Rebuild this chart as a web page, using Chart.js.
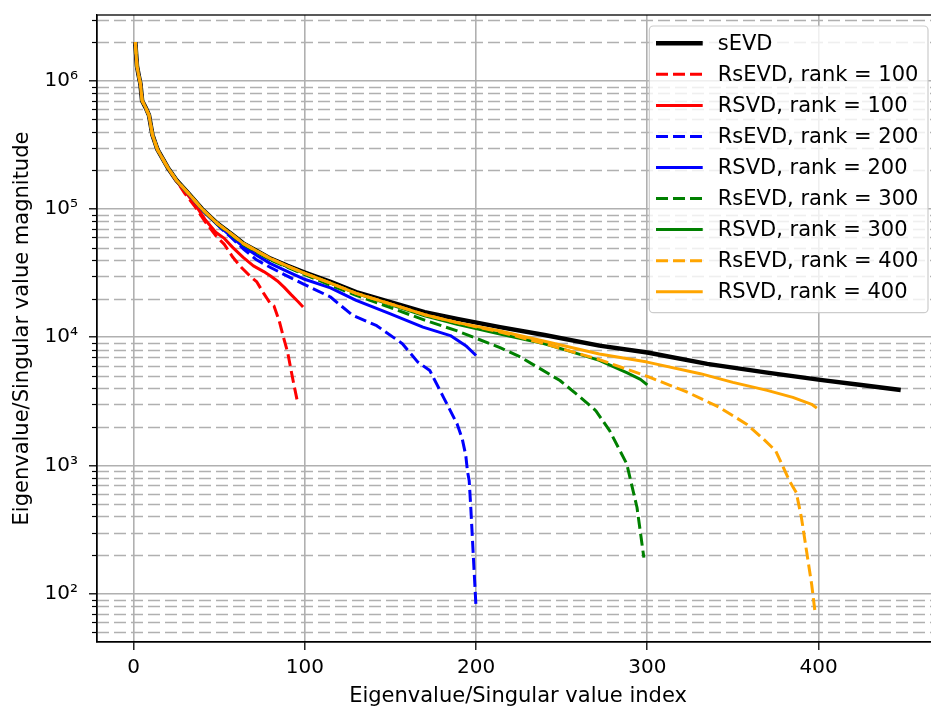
<!DOCTYPE html>
<html>
<head>
<meta charset="utf-8">
<script src="https://cdn.jsdelivr.net/npm/chart.js@4/dist/chart.umd.min.js"></script>
<style>
  html, body { margin: 0; padding: 0; background: #fff; overflow: hidden; }
  #wrap { width: 960px; height: 711px; }
</style>
</head>
<body>
<div id="wrap"><canvas id="evChart" width="960" height="711"></canvas></div>
<script>
// axis ticks
const xTicks = [0, 100, 200, 300, 400];
const yMajor = [1e2, 1e3, 1e4, 1e5, 1e6];
const yTickLabels = ['10²', '10³', '10⁴', '10⁵', '10⁶'];
const yMinor = [50, 60, 70, 80, 90,
    200, 300, 400, 500, 600, 700, 800, 900,
    2e3, 3e3, 4e3, 5e3, 6e3, 7e3, 8e3, 9e3,
    2e4, 3e4, 4e4, 5e4, 6e4, 7e4, 8e4, 9e4,
    2e5, 3e5, 4e5, 5e5, 6e5, 7e5, 8e5, 9e5,
    2e6, 3e6];

// sEVD
const sevdIdx = [1, 2, 3, 4, 5, 7, 9, 11, 14, 20, 25, 30, 33, 40, 49, 57, 64, 72, 80, 90, 100, 115, 130, 150, 170, 189, 214, 240, 272, 300, 335, 370, 401, 425, 448];
const sevdVal = [2.0e6, 1.3e6, 1.1e6, 9.5e5, 7.0e5, 6.2e5, 5.4e5, 3.8e5, 2.9e5, 2.1e5, 1.68e5, 1.42e5, 1.28e5, 1.0e5, 7.7e4, 6.4e4, 5.4e4, 4.7e4, 4.1e4, 3.6e4, 3.2e4, 2.7e4, 2.25e4, 1.88e4, 1.57e4, 1.39e4, 1.2e4, 1.04e4, 8.6e3, 7.6e3, 6.2e3, 5.3e3, 4.65e3, 4.25e3, 3.88e3];

// RsEVD / RSVD, rank = 100
const rsevd100Idx = [1, 2, 3, 4, 5, 7, 9, 11, 14, 20, 25, 30, 36, 42, 48, 53, 58, 63, 68, 72, 76, 80, 82, 85, 88, 90, 93, 96];
const rsevd100Val = [2.0e6, 1.3e6, 1.1e6, 9.5e5, 7.0e5, 6.2e5, 5.4e5, 3.8e5, 2.9e5, 2.1e5, 1.66e5, 1.32e5, 1.04e5, 7.9e4, 6.2e4, 5.3e4, 4.2e4, 3.5e4, 3.0e4, 2.7e4, 2.2e4, 1.82e4, 1.75e4, 1.35e4, 9.5e3, 7.6e3, 4.7e3, 3.0e3];
const rsvd100Idx = [1, 2, 3, 4, 5, 7, 9, 11, 14, 20, 25, 30, 36, 42, 48, 53, 58, 64, 70, 76, 80, 84, 88, 92, 96, 99];
const rsvd100Val = [2.0e6, 1.3e6, 1.1e6, 9.5e5, 7.0e5, 6.2e5, 5.4e5, 3.8e5, 2.9e5, 2.1e5, 1.67e5, 1.38e5, 1.08e5, 8.2e4, 6.6e4, 5.9e4, 5.0e4, 4.2e4, 3.6e4, 3.25e4, 3.0e4, 2.75e4, 2.45e4, 2.15e4, 1.9e4, 1.72e4];

// rank = 200
const rsevd200Idx = [1, 2, 3, 4, 5, 7, 9, 11, 14, 20, 25, 33, 40, 45, 50, 57, 64, 72, 80, 91, 99, 115, 128, 142, 157, 166, 173, 181, 189, 192, 194, 195, 196, 197, 198, 199, 200];
const rsevd200Val = [2.0e6, 1.3e6, 1.1e6, 9.5e5, 7.0e5, 6.2e5, 5.4e5, 3.8e5, 2.9e5, 2.1e5, 1.68e5, 1.27e5, 9.9e4, 8.5e4, 7.3e4, 6.0e4, 4.9e4, 4.0e4, 3.5e4, 2.94e4, 2.61e4, 2.06e4, 1.48e4, 1.23e4, 8.9e3, 6.4e3, 5.5e3, 3.4e3, 2.1e3, 1.6e3, 1.2e3, 9.0e2, 7.6e2, 4.5e2, 2.5e2, 1.4e2, 78];
const rsvd200Idx = [1, 2, 3, 4, 5, 7, 9, 11, 14, 20, 25, 33, 40, 45, 50, 57, 64, 72, 80, 90, 99, 115, 130, 150, 169, 185, 194, 200];
const rsvd200Val = [2.0e6, 1.3e6, 1.1e6, 9.5e5, 7.0e5, 6.2e5, 5.4e5, 3.8e5, 2.9e5, 2.1e5, 1.68e5, 1.27e5, 9.9e4, 8.6e4, 7.4e4, 6.1e4, 5.1e4, 4.35e4, 3.75e4, 3.25e4, 2.86e4, 2.43e4, 1.94e4, 1.52e4, 1.2e4, 1.03e4, 8.6e3, 7.2e3];

// rank = 300
const rsevd300Idx = [1, 2, 3, 4, 5, 7, 9, 11, 14, 20, 25, 33, 40, 49, 57, 64, 72, 80, 90, 100, 115, 130, 150, 170, 189, 214, 226, 249, 261, 270, 278, 288, 294, 298];
const rsevd300Val = [2.0e6, 1.3e6, 1.1e6, 9.5e5, 7.0e5, 6.2e5, 5.4e5, 3.8e5, 2.9e5, 2.1e5, 1.68e5, 1.28e5, 1.0e5, 7.6e4, 6.3e4, 5.3e4, 4.6e4, 4.0e4, 3.5e4, 3.08e4, 2.55e4, 2.12e4, 1.7e4, 1.36e4, 1.12e4, 8.3e3, 7.0e3, 4.6e3, 3.4e3, 2.67e3, 1.87e3, 1.03e3, 470, 191];
const rsvd300Idx = [1, 2, 3, 4, 5, 7, 9, 11, 14, 20, 25, 33, 40, 49, 57, 64, 72, 80, 90, 100, 115, 130, 150, 170, 189, 214, 240, 253, 272, 288, 296, 300];
const rsvd300Val = [2.0e6, 1.3e6, 1.1e6, 9.5e5, 7.0e5, 6.2e5, 5.4e5, 3.8e5, 2.9e5, 2.1e5, 1.68e5, 1.28e5, 1.0e5, 7.7e4, 6.4e4, 5.4e4, 4.7e4, 4.05e4, 3.55e4, 3.15e4, 2.64e4, 2.2e4, 1.8e4, 1.47e4, 1.26e4, 1.06e4, 8.9e3, 7.9e3, 6.6e3, 5.3e3, 4.7e3, 4.25e3];

// rank = 400
const rsevd400Idx = [1, 2, 3, 4, 5, 7, 9, 11, 14, 20, 25, 33, 40, 49, 57, 64, 72, 80, 90, 100, 115, 130, 150, 170, 189, 214, 240, 272, 300, 323, 334, 342, 358, 368, 375, 383, 387, 390, 393, 396, 398];
const rsevd400Val = [2.0e6, 1.3e6, 1.1e6, 9.5e5, 7.0e5, 6.2e5, 5.4e5, 3.8e5, 2.9e5, 2.1e5, 1.68e5, 1.28e5, 1.0e5, 7.7e4, 6.4e4, 5.4e4, 4.7e4, 4.1e4, 3.58e4, 3.15e4, 2.64e4, 2.2e4, 1.82e4, 1.5e4, 1.3e4, 1.1e4, 8.9e3, 6.7e3, 4.95e3, 3.75e3, 3.2e3, 2.84e3, 2.1e3, 1.6e3, 1.3e3, 760, 615, 393, 215, 118, 71];
const rsvd400Idx = [1, 2, 3, 4, 5, 7, 9, 11, 14, 20, 25, 33, 40, 49, 57, 64, 72, 80, 90, 100, 115, 130, 150, 170, 189, 214, 240, 272, 300, 331, 350, 370, 385, 396, 399];
const rsvd400Val = [2.0e6, 1.3e6, 1.1e6, 9.5e5, 7.0e5, 6.2e5, 5.4e5, 3.8e5, 2.9e5, 2.1e5, 1.68e5, 1.28e5, 1.0e5, 7.7e4, 6.4e4, 5.4e4, 4.7e4, 4.1e4, 3.58e4, 3.15e4, 2.64e4, 2.2e4, 1.82e4, 1.5e4, 1.3e4, 1.12e4, 9.3e3, 7.4e3, 6.4e3, 5.2e3, 4.45e3, 3.85e3, 3.4e3, 3.0e3, 2.8e3];

function pts(xs, ys) {
    return xs.map((x, i) => ({ x: x, y: ys[i] }));
}

const DASH = [12, 5];
const series = [
    { label: 'sEVD', xs: sevdIdx, ys: sevdVal, color: '#000000', dash: [], width: 4.5 },
    { label: 'RsEVD, rank = 100', xs: rsevd100Idx, ys: rsevd100Val, color: '#ff0000', dash: DASH, width: 3 },
    { label: 'RSVD, rank = 100', xs: rsvd100Idx, ys: rsvd100Val, color: '#ff0000', dash: [], width: 3 },
    { label: 'RsEVD, rank = 200', xs: rsevd200Idx, ys: rsevd200Val, color: '#0000ff', dash: DASH, width: 3 },
    { label: 'RSVD, rank = 200', xs: rsvd200Idx, ys: rsvd200Val, color: '#0000ff', dash: [], width: 3 },
    { label: 'RsEVD, rank = 300', xs: rsevd300Idx, ys: rsevd300Val, color: '#008000', dash: DASH, width: 3 },
    { label: 'RSVD, rank = 300', xs: rsvd300Idx, ys: rsvd300Val, color: '#008000', dash: [], width: 3 },
    { label: 'RsEVD, rank = 400', xs: rsevd400Idx, ys: rsevd400Val, color: '#ffa500', dash: DASH, width: 3 },
    { label: 'RSVD, rank = 400', xs: rsvd400Idx, ys: rsvd400Val, color: '#ffa500', dash: [], width: 3 }
];

const FONT = 'DejaVu Sans';
const FSIZE = 21;
const TICK_SIZE = 20;
Chart.defaults.font.family = FONT;
Chart.defaults.font.size = FSIZE;
Chart.defaults.color = '#000';

// dashed minor grid, minor ticks, frame
const minorGrid = {
    id: 'minorGrid',
    beforeDatasetsDraw(chart) {
        const { ctx, chartArea: a, scales: { y } } = chart;
        ctx.save();
        ctx.strokeStyle = '#b0b0b0';
        ctx.lineWidth = 1.3;
        ctx.setLineDash([12, 5]);
        yMinor.forEach(v => {
            const py = Math.round(y.getPixelForValue(v)) + 0.5;
            if (py < a.top || py > a.bottom) return;
            ctx.beginPath();
            ctx.moveTo(a.left, py);
            ctx.lineTo(a.right, py);
            ctx.stroke();
        });
        ctx.setLineDash([]);
        ctx.strokeStyle = '#000';
        ctx.lineWidth = 1.2;
        yMinor.forEach(v => {
            const py = Math.round(y.getPixelForValue(v)) + 0.5;
            if (py < a.top || py > a.bottom) return;
            ctx.beginPath();
            ctx.moveTo(a.left - 5, py);
            ctx.lineTo(a.left, py);
            ctx.stroke();
        });
        ctx.restore();
    },
    afterDatasetsDraw(chart) {
        const { ctx, chartArea: a } = chart;
        ctx.save();
        ctx.strokeStyle = '#000';
        ctx.lineWidth = 1.3;
        ctx.strokeRect(a.left, a.top, a.right - a.left, a.bottom - a.top);
        ctx.restore();
    }
};

// matplotlib-like legend box in the upper right
const boxLegend = {
    id: 'boxLegend',
    afterDraw(chart) {
        const { ctx, chartArea: a } = chart;
        const sets = chart.data.datasets;
        ctx.save();
        ctx.font = FSIZE + 'px "' + FONT + '"';
        let maxW = 0;
        sets.forEach(d => { maxW = Math.max(maxW, ctx.measureText(d.label).width); });
        const right = a.right - 11;
        const top = a.top + 11;
        const w = 68.4 + maxW + 9.6;
        const left = right - w;
        const rowH = 31.05;
        const h = 17.3 + (sets.length - 1) * rowH + 21;
        ctx.beginPath();
        ctx.roundRect(left, top, w, h, 4);
        ctx.fillStyle = 'rgba(255,255,255,0.8)';
        ctx.fill();
        ctx.strokeStyle = '#cccccc';
        ctx.lineWidth = 1.2;
        ctx.stroke();
        sets.forEach((d, i) => {
            const cy = top + 17.3 + i * rowH;
            ctx.strokeStyle = d.borderColor;
            ctx.lineWidth = d.borderWidth;
            ctx.setLineDash(d.borderDash || []);
            ctx.beginPath();
            ctx.moveTo(left + 6.7, cy);
            ctx.lineTo(left + 53.4, cy);
            ctx.stroke();
            ctx.setLineDash([]);
            ctx.fillStyle = '#000';
            ctx.textBaseline = 'middle';
            ctx.textAlign = 'left';
            ctx.fillText(d.label, left + 68.4, cy + 1);
        });
        ctx.restore();
    }
};

const ctx = document.getElementById('evChart').getContext('2d');
const evChart = new Chart(ctx, {
    type: 'line',
    data: {
        datasets: series.map((s, i) => ({
            label: s.label,
            data: pts(s.xs, s.ys),
            borderColor: s.color,
            backgroundColor: s.color,
            borderDash: s.dash,
            borderWidth: s.width,
            pointRadius: 0,
            tension: 0,
            fill: false,
            borderJoinStyle: 'round',
            order: series.length - i
        }))
    },
    options: {
        responsive: false,
        animation: false,
        devicePixelRatio: 1,
        layout: { padding: { left: 0, top: 15, right: 21, bottom: 0 } },
        plugins: {
            legend: { display: false },
            tooltip: { enabled: false }
        },
        scales: {
            x: {
                type: 'linear',
                min: -21.35,
                max: 470.35,
                afterBuildTicks: scale => { scale.ticks = xTicks.map(v => ({ value: v })); },
                afterFit: scale => { scale.height = 69; scale.paddingLeft = 0; scale.paddingRight = 0; },
                grid: { color: '#b0b0b0', lineWidth: 1.6, tickLength: 8, tickColor: '#000', tickWidth: 1.3 },
                border: { display: true, color: '#000', width: 1.3 },
                ticks: { padding: 5.5, maxRotation: 0, color: '#000', font: { size: TICK_SIZE } },
                title: { display: true, text: 'Eigenvalue/Singular value index', padding: { top: 0, bottom: 2 }, color: '#000' }
            },
            y: {
                type: 'logarithmic',
                min: 42,
                max: 3.26e6,
                afterBuildTicks: scale => { scale.ticks = yMajor.map(v => ({ value: v })); },
                afterFit: scale => { scale.width = 97; scale.paddingTop = 0; scale.paddingBottom = 0; },
                grid: { color: '#b0b0b0', lineWidth: 1.6, tickLength: 8, tickColor: '#000', tickWidth: 1.3 },
                border: { display: true, color: '#000', width: 1.3 },
                ticks: { padding: 11, color: '#000', font: { size: TICK_SIZE }, callback: (v, i) => yTickLabels[i] },
                title: { display: true, text: 'Eigenvalue/Singular value magnitude', padding: { top: 10, bottom: 0 }, color: '#000' }
            }
        }
    },
    plugins: [minorGrid, boxLegend]
});
</script>
</body>
</html>
